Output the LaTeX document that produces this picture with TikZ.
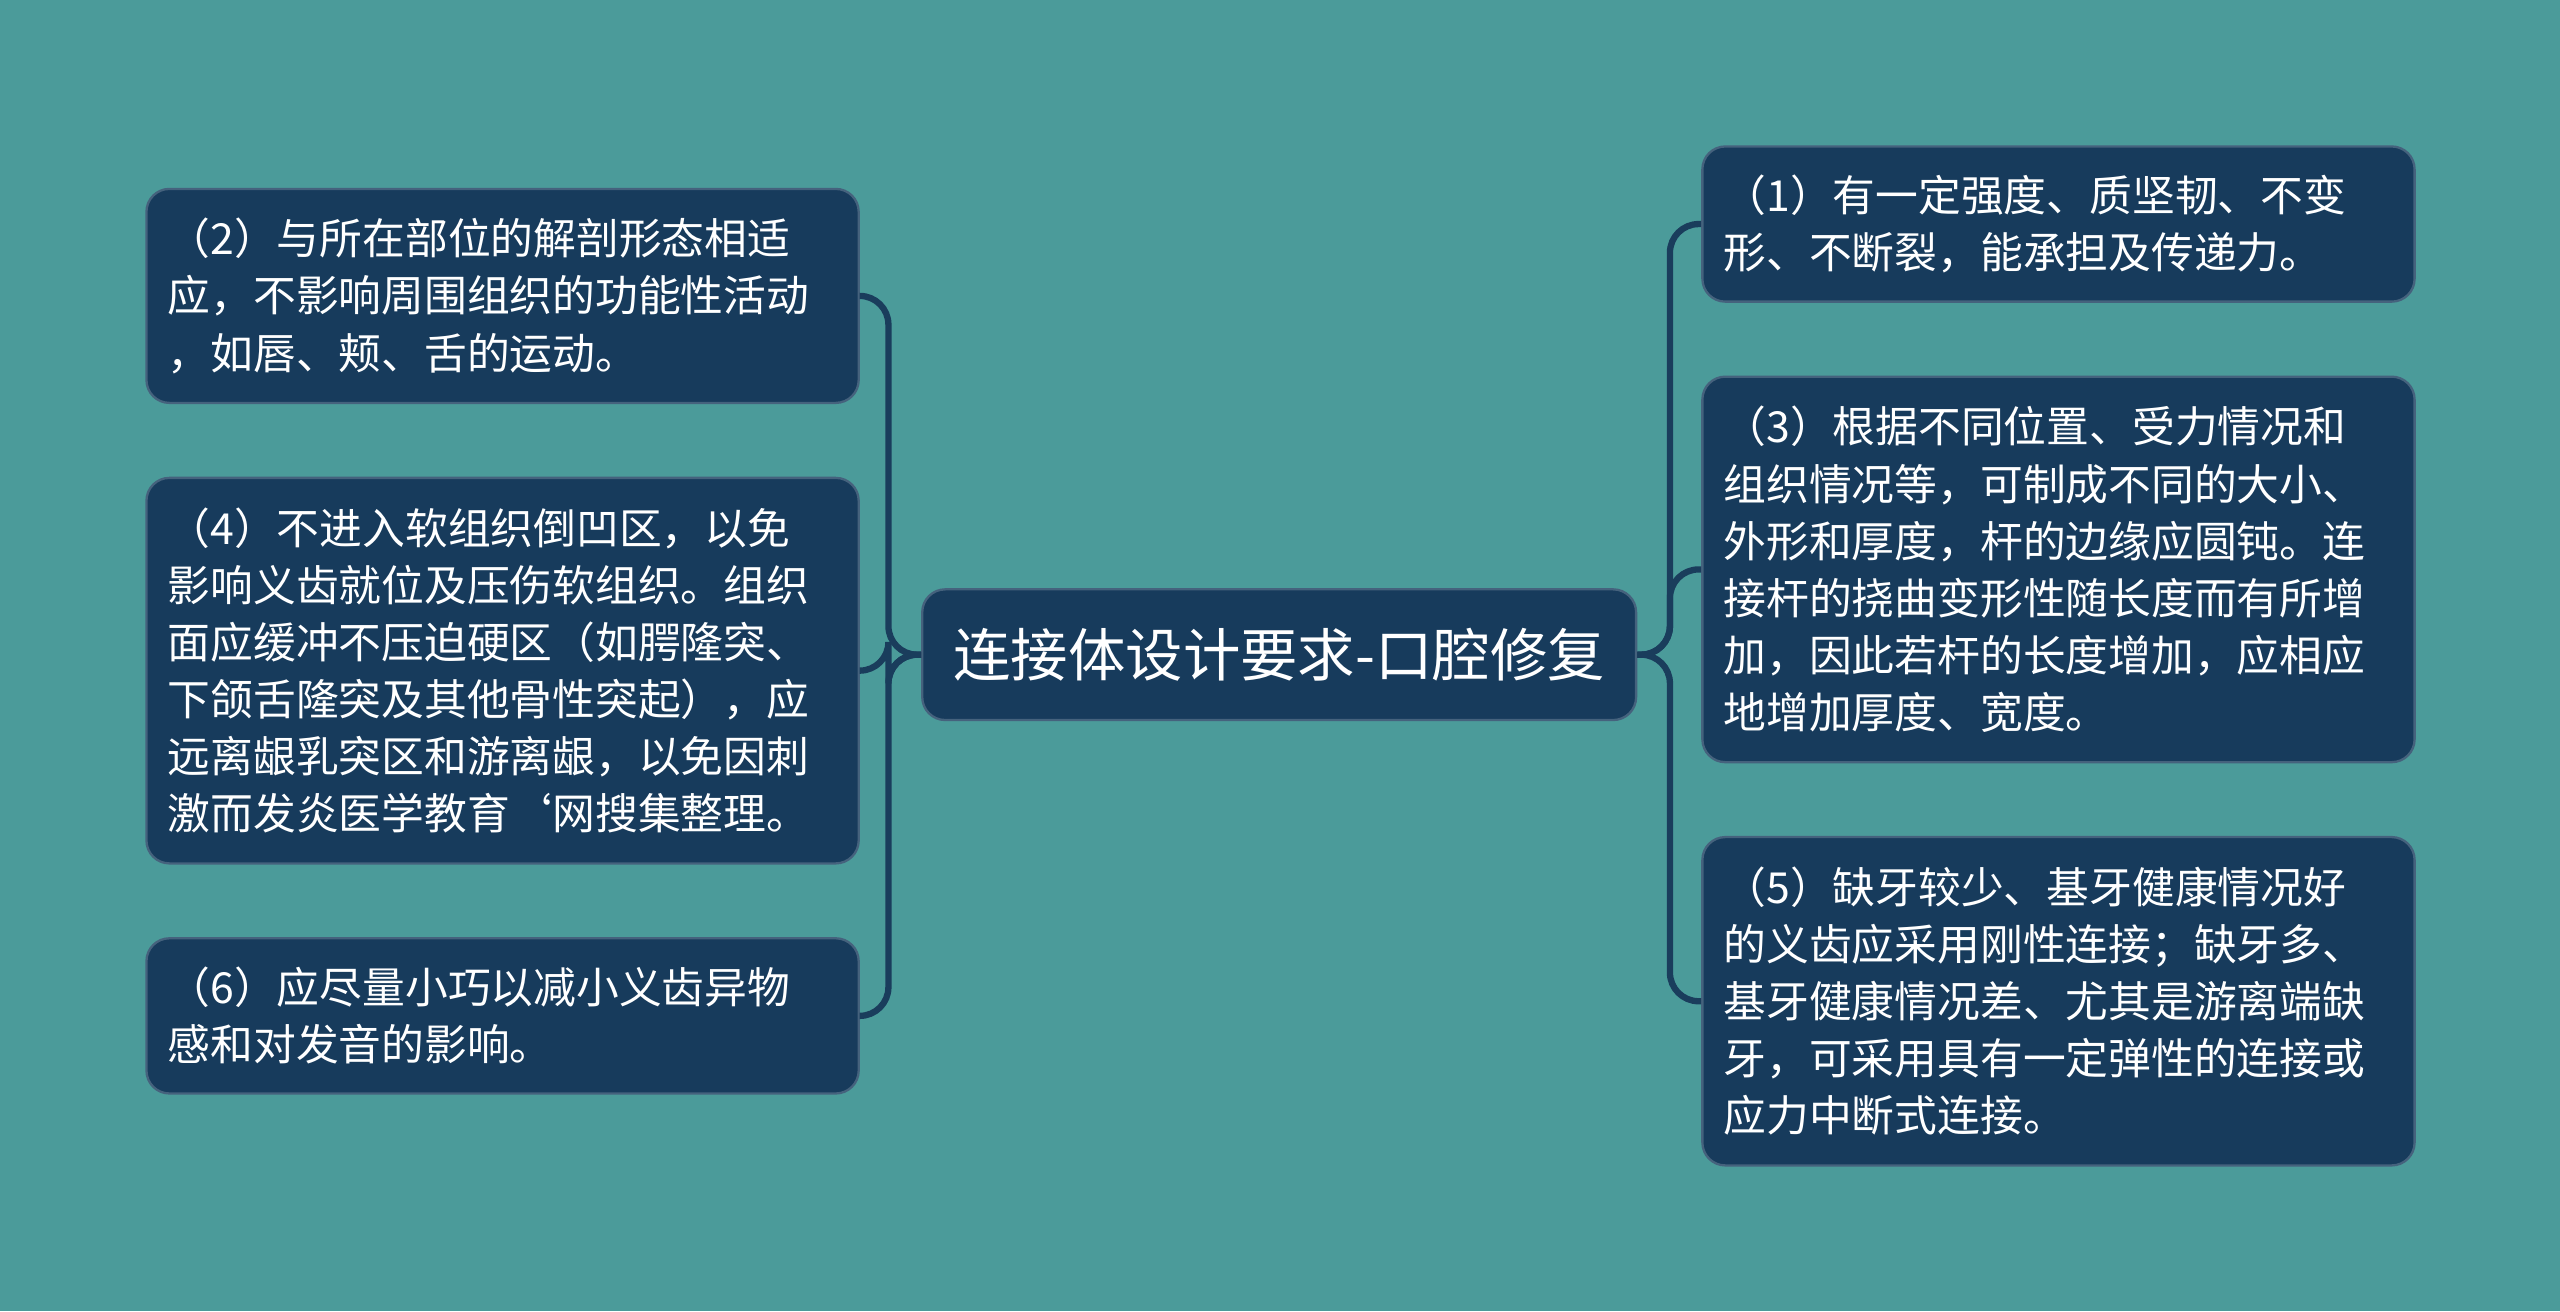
\documentclass[tikz,border=0pt]{standalone}
\usepackage{fontspec}
\setmainfont{Noto Sans CJK SC}
\usetikzlibrary{positioning}
\definecolor{bgteal}{HTML}{4B9B9A}
\definecolor{boxnavy}{HTML}{173B5C}
\definecolor{linknavy}{HTML}{1A3D5C}
\tikzset{
  item/.style={draw=boxnavy!80!white, fill=boxnavy, rounded corners=4pt, anchor=north west,
    text=white, align=left, inner xsep=0.13cm, inner ysep=0pt,
    minimum width=4.36cm, text width=4.1cm,
    font=\fontsize{7.45pt}{9.95pt}\selectfont},
  topic/.style={draw=boxnavy!80!white, fill=boxnavy, rounded corners=4pt, text=white,
    minimum width=4.37cm, minimum height=0.8cm, font=\fontsize{10pt}{12pt}\selectfont},
  link/.style={draw=linknavy, line width=1.1pt, rounded corners=5pt}
}
\begin{document}
\begin{tikzpicture}[x=0.01cm, y=-0.01cm]
  \fill[bgteal] (0,0) rectangle (1568,803);
  \useasboundingbox (0,0) rectangle (1568,803);
  % central topic
  \node[topic] (c) at (783.5,401) {连接体设计要求-口腔修复};
  % left side
  \node[item, minimum height=1.31cm] (l2) at (89,115)
    {（2）与所在部位的解剖形态相适\\应，不影响周围组织的功能性活动\\，如唇、颊、舌的运动。};
  \node[item, minimum height=2.36cm] (l4) at (89,292)
    {（4）不进入软组织倒凹区，以免\\影响义齿就位及压伤软组织。组织\\面应缓冲不压迫硬区（如腭隆突、\\下颌舌隆突及其他骨性突起），应\\远离龈乳突区和游离龈，以免因刺\\激而发炎医学教育\symbol{96}网搜集整理。};
  \node[item, minimum height=0.95cm] (l6) at (89,574)
    {（6）应尽量小巧以减小义齿异物\\感和对发音的影响。};
  % right side
  \node[item, minimum height=0.95cm] (r1) at (1042,89)
    {（1）有一定强度、质坚韧、不变\\形、不断裂，能承担及传递力。};
  \node[item, minimum height=2.36cm] (r3) at (1042,230)
    {（3）根据不同位置、受力情况和\\组织情况等，可制成不同的大小、\\外形和厚度，杆的边缘应圆钝。连\\接杆的挠曲变形性随长度而有所增\\加，因此若杆的长度增加，应相应\\地增加厚度、宽度。};
  \node[item, minimum height=2.01cm] (r5) at (1042,512)
    {（5）缺牙较少、基牙健康情况好\\的义齿应采用刚性连接；缺牙多、\\基牙健康情况差、尤其是游离端缺\\牙，可采用具有一定弹性的连接或\\应力中断式连接。};
  % connectors
  \foreach \n in {l2,l4,l6}
    \draw[link] (c.west) -- ++(-0.2cm,0) |- (\n.east);
  \foreach \n in {r1,r3,r5}
    \draw[link] (c.east) -- ++(0.2cm,0) |- (\n.west);
\end{tikzpicture}
\end{document}
